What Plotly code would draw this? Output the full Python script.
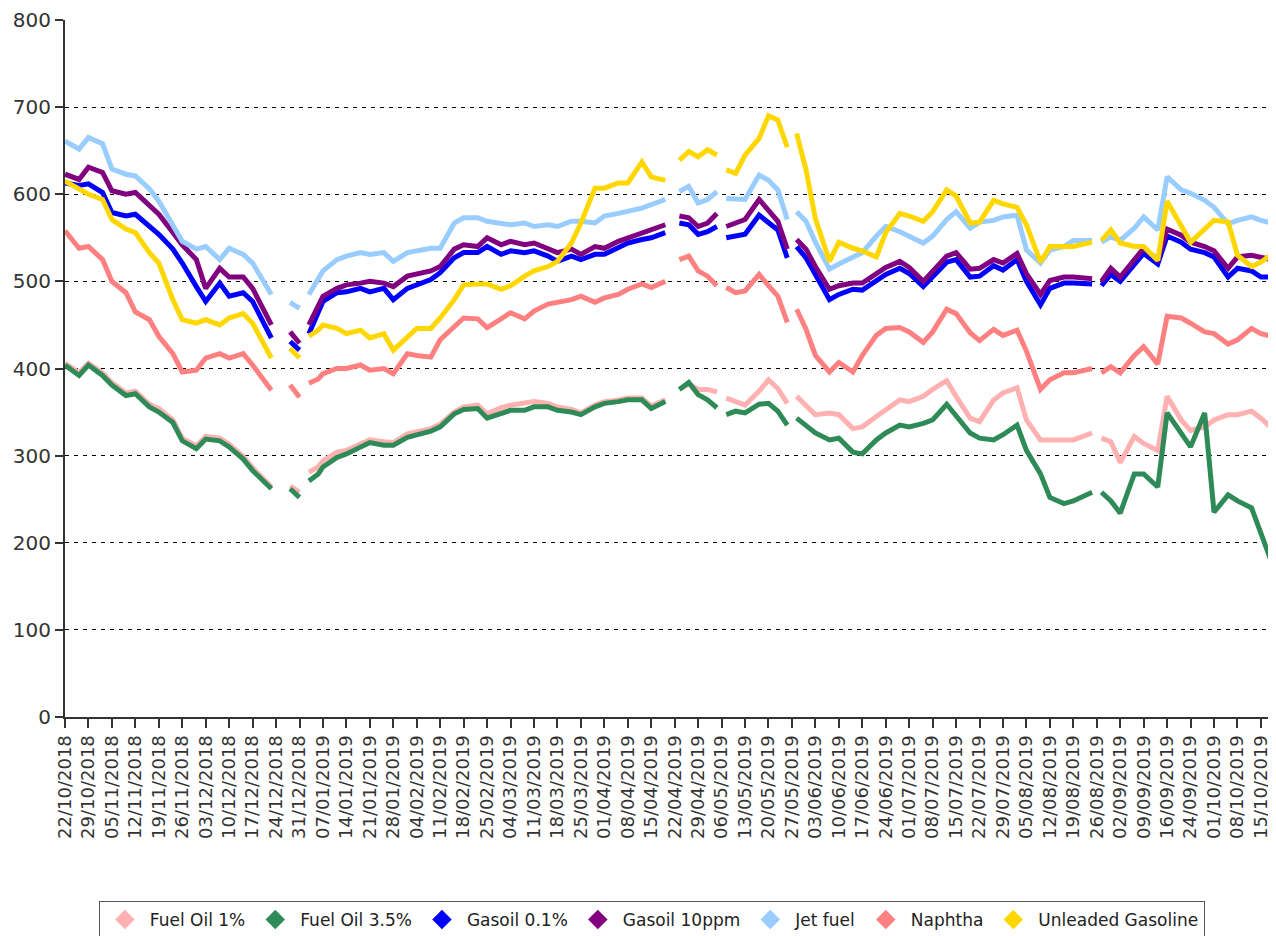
import plotly.graph_objects as go

# Sample dates (business days; holidays as gaps)
dates = [
    "2018-10-22", "2018-10-25", "2018-10-29", "2018-11-01", "2018-11-05", "2018-11-08",
    "2018-11-12", "2018-11-15", "2018-11-19", "2018-11-22", "2018-11-26", "2018-11-29",
    "2018-12-03", "2018-12-06", "2018-12-10", "2018-12-13", "2018-12-17", "2018-12-21",
    "2018-12-24", "2018-12-27", "2018-12-31", "2019-01-01", "2019-01-02", "2019-01-04",
    "2019-01-07", "2019-01-10", "2019-01-14", "2019-01-17", "2019-01-21", "2019-01-24",
    "2019-01-28", "2019-01-31", "2019-02-04", "2019-02-07", "2019-02-11", "2019-02-14",
    "2019-02-18", "2019-02-21", "2019-02-25", "2019-02-28", "2019-03-04", "2019-03-07",
    "2019-03-11", "2019-03-14", "2019-03-18", "2019-03-21", "2019-03-25", "2019-03-28",
    "2019-04-01", "2019-04-04", "2019-04-08", "2019-04-11", "2019-04-15", "2019-04-18",
    "2019-04-19", "2019-04-23", "2019-04-25", "2019-04-29", "2019-05-01", "2019-05-03",
    "2019-05-06", "2019-05-07", "2019-05-09", "2019-05-13", "2019-05-16", "2019-05-20",
    "2019-05-22", "2019-05-24", "2019-05-27", "2019-05-28", "2019-05-30", "2019-06-03",
    "2019-06-06", "2019-06-10", "2019-06-13", "2019-06-17", "2019-06-20", "2019-06-24",
    "2019-06-27", "2019-07-01", "2019-07-04", "2019-07-08", "2019-07-11", "2019-07-15",
    "2019-07-18", "2019-07-22", "2019-07-25", "2019-07-29", "2019-08-01", "2019-08-05",
    "2019-08-08", "2019-08-12", "2019-08-15", "2019-08-19", "2019-08-23", "2019-08-26",
    "2019-08-27", "2019-08-29", "2019-09-02", "2019-09-05", "2019-09-09", "2019-09-12",
    "2019-09-16", "2019-09-19", "2019-09-24", "2019-09-27", "2019-10-01", "2019-10-04",
    "2019-10-08", "2019-10-11", "2019-10-15", "2019-10-18",
]

N = None
fuel_oil_1 = [
    406, 395, 406, 395, 384, 372, 374, 359, 354, 341, 320, 311,
    322, 320, 313, 299, 286, 264, N, 265, 258, N, 281, 287,
    294, 304, 306, 313, 318, 316, 315, 325, 327, 331, 336, 350,
    356, 358, 348, 355, 358, 360, 362, 360, 356, 353, 349, 358,
    362, 364, 366, 366, 357, 364, N, 376, 382, 376, 376, 373,
    N, 366, 362, 358, 374, 387, 377, 360, N, 368, 357, 347,
    349, 347, 331, 333, 345, 353, 364, 362, 368, 376, 386, 368,
    343, 339, 364, 372, 378, 341, 318, 318, 318, 318, 326, N,
    320, 316, 292, 322, 314, 306, 368, 341, 329, 333, 341, 347,
    347, 351, 343, 328,
]
fuel_oil_35 = [
    404, 392, 404, 392, 381, 369, 371, 356, 350, 338, 317, 308,
    319, 317, 310, 296, 283, 262, N, 262, 252, N, 271, 279,
    287, 298, 302, 310, 315, 312, 312, 321, 324, 328, 333, 348,
    353, 354, 343, 348, 352, 352, 356, 356, 352, 350, 347, 356,
    360, 362, 364, 364, 354, 362, N, 376, 384, 370, 364, 355,
    N, 347, 351, 349, 359, 360, 351, 335, N, 343, 335, 326,
    318, 320, 304, 302, 318, 326, 335, 333, 337, 341, 359, 345,
    326, 320, 318, 324, 335, 306, 279, 252, 245, 248, 258, N,
    258, 248, 234, 279, 279, 264, 349, 326, 310, 349, 235, 255,
    248, 240, 210, 167,
]
gasoil_01 = [
    613, 610, 612, 602, 579, 575, 577, 563, 554, 537, 521, 494,
    477, 498, 483, 487, 477, 435, N, 431, 421, N, 440, 463,
    477, 487, 488, 492, 488, 492, 479, 492, 496, 502, 510, 527,
    533, 533, 540, 531, 535, 533, 535, 529, 523, 529, 525, 531,
    531, 538, 544, 548, 550, 556, N, 567, 565, 554, 557, 563,
    N, 550, 552, 554, 576, 567, 559, 527, N, 540, 527, 508,
    479, 485, 491, 490, 500, 508, 515, 509, 494, 505, 522, 525,
    505, 506, 518, 513, 525, 500, 473, 492, 498, 498, 497, N,
    495, 508, 500, 518, 532, 520, 552, 545, 537, 533, 528, 505,
    515, 512, 505, 505,
]
gasoil_10ppm = [
    623, 617, 631, 625, 604, 600, 602, 587, 577, 556, 542, 525,
    492, 515, 505, 505, 492, 450, N, 442, 429, N, 450, 471,
    483, 492, 496, 498, 500, 498, 494, 506, 508, 512, 517, 537,
    542, 540, 550, 542, 546, 542, 544, 538, 533, 537, 531, 540,
    538, 546, 550, 556, 559, 565, N, 575, 573, 563, 567, 578,
    N, 563, 567, 571, 594, 582, 569, 537, N, 548, 537, 517,
    491, 495, 498, 498, 508, 516, 523, 516, 500, 512, 529, 533,
    514, 515, 525, 521, 532, 509, 485, 501, 505, 505, 503, N,
    500, 515, 505, 525, 538, 525, 560, 553, 545, 540, 535, 515,
    528, 530, 527, 524,
]
jet_fuel = [
    661, 652, 665, 658, 629, 623, 621, 606, 592, 563, 546, 537,
    540, 525, 538, 531, 521, 485, N, 476, 469, N, 485, 502,
    512, 525, 529, 533, 531, 533, 523, 533, 535, 538, 538, 567,
    573, 573, 569, 567, 565, 567, 563, 565, 563, 569, 569, 567,
    575, 578, 580, 584, 588, 594, N, 603, 609, 590, 594, 603,
    N, 595, 594, 594, 622, 616, 605, 571, N, 580, 569, 545,
    514, 520, 528, 533, 552, 563, 557, 552, 544, 552, 571, 580,
    561, 568, 570, 574, 576, 536, 521, 536, 540, 547, 547, N,
    545, 551, 547, 561, 574, 559, 620, 605, 601, 593, 585, 566,
    570, 574, 570, 566,
]
naphtha = [
    558, 538, 540, 525, 500, 487, 465, 456, 437, 417, 396, 398,
    412, 417, 412, 417, 404, 375, N, 381, 367, N, 383, 388,
    394, 400, 400, 404, 398, 400, 394, 417, 415, 413, 433, 448,
    458, 457, 447, 457, 464, 457, 466, 474, 476, 479, 483, 476,
    481, 485, 491, 497, 493, 500, N, 525, 529, 512, 506, 495,
    N, 493, 487, 489, 508, 495, 483, 453, N, 468, 445, 415,
    396, 407, 396, 415, 438, 446, 447, 442, 430, 442, 468, 463,
    441, 432, 445, 438, 444, 420, 376, 387, 395, 395, 400, N,
    395, 402, 395, 415, 425, 405, 460, 458, 452, 442, 440, 428,
    433, 446, 440, 436,
]
unleaded_gasoline = [
    615, 606, 600, 594, 571, 560, 556, 533, 521, 479, 456, 452,
    456, 450, 458, 463, 452, 412, N, 423, 412, N, 437, 444,
    450, 446, 440, 444, 435, 440, 421, 437, 446, 446, 458, 479,
    496, 497, 497, 491, 495, 506, 512, 517, 523, 544, 567, 607,
    607, 613, 613, 637, 620, 616, N, 639, 649, 643, 651, 645,
    N, 628, 624, 645, 664, 690, 685, 654, N, 670, 628, 572,
    523, 545, 538, 535, 528, 556, 578, 575, 569, 580, 605, 598,
    567, 568, 593, 589, 585, 565, 522, 540, 540, 540, 545, N,
    547, 559, 544, 540, 540, 524, 592, 565, 545, 560, 570, 568,
    530, 517, 522, 534,
]

series_names = ["Fuel Oil 1%", "Fuel Oil 3.5%", "Gasoil 0.1%", "Gasoil 10ppm",
                "Jet fuel", "Naphtha", "Unleaded Gasoline"]
series_values = [fuel_oil_1, fuel_oil_35, gasoil_01, gasoil_10ppm,
                 jet_fuel, naphtha, unleaded_gasoline]
series_colors = ["#FFB0B0", "#2E8B57", "#0000FF", "#800080",
                 "#99CCFF", "#FF8080", "#FFD700"]

tick_dates = [
    "2018-10-22", "2018-10-29", "2018-11-05", "2018-11-12", "2018-11-19", "2018-11-26",
    "2018-12-03", "2018-12-10", "2018-12-17", "2018-12-24", "2018-12-31", "2019-01-07",
    "2019-01-14", "2019-01-21", "2019-01-28", "2019-02-04", "2019-02-11", "2019-02-18",
    "2019-02-25", "2019-03-04", "2019-03-11", "2019-03-18", "2019-03-25", "2019-04-01",
    "2019-04-08", "2019-04-15", "2019-04-22", "2019-04-29", "2019-05-06", "2019-05-13",
    "2019-05-20", "2019-05-27", "2019-06-03", "2019-06-10", "2019-06-17", "2019-06-24",
    "2019-07-01", "2019-07-08", "2019-07-15", "2019-07-22", "2019-07-29", "2019-08-05",
    "2019-08-12", "2019-08-19", "2019-08-26", "2019-09-02", "2019-09-09", "2019-09-16",
    "2019-09-24", "2019-10-01", "2019-10-08", "2019-10-15",
]
tick_labels = ["/".join(reversed(d.split("-"))) for d in tick_dates]

FONT = "DejaVu Sans"
fig = go.Figure()
for name, vals, color in zip(series_names, series_values, series_colors):
    fig.add_trace(go.Scatter(
        x=dates, y=vals, mode="lines", name=name, connectgaps=False,
        line=dict(color=color, width=5), showlegend=False, hoverinfo="x+y+name"))
for name, color in zip(series_names, series_colors):
    fig.add_trace(go.Scatter(
        x=[None], y=[None], mode="markers", name=name,
        marker=dict(symbol="diamond", size=15, color=color), showlegend=True))

# The page body has an 8px default margin, so the figure is sized/offset to match.
fig.update_layout(
    width=1268, height=928,
    margin=dict(l=57, r=1, t=12, b=219, autoexpand=False),
    paper_bgcolor="white", plot_bgcolor="white",
    font=dict(family=FONT, color="#333333"),
    showlegend=True,
    legend=dict(
        orientation="h", x=0.485, xanchor="center", y=-0.264, yanchor="top",
        bordercolor="#555555", borderwidth=1, bgcolor="white",
        font=dict(family=FONT, size=17, color="#222222"),
        itemwidth=40,
    ),
)
fig.update_xaxes(
    type="date", automargin=False,
    range=["2018-10-22", "2019-10-18"],
    rangebreaks=[dict(bounds=["sat", "mon"]), dict(values=["2019-09-23"])],
    tickmode="array", tickvals=tick_dates, ticktext=tick_labels,
    tickangle=-90, ticks="outside", ticklen=9, tickcolor="#333333", tickwidth=1.5,
    tickfont=dict(family=FONT, size=18, color="#333333"),
    showgrid=False, showline=True, linecolor="#333333", linewidth=2,
    zeroline=False,
)
fig.update_yaxes(
    range=[0, 800], dtick=100, tick0=0, automargin=False,
    ticks="outside", ticklen=8, tickcolor="#333333", tickwidth=1.5,
    tickfont=dict(family=FONT, size=20, color="#333333"),
    showgrid=True, gridcolor="#000000", gridwidth=1, griddash="4px,5px",
    showline=True, linecolor="#333333", linewidth=2, zeroline=False,
)

fig.write_html("out.html")
